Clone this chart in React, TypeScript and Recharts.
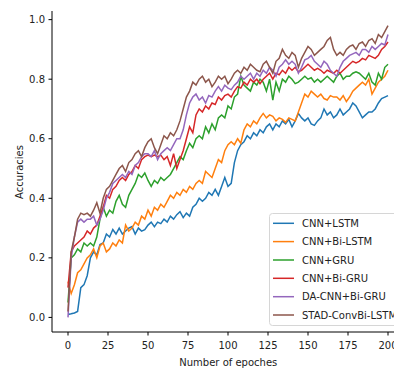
import React from 'react';
import { LineChart, Line, XAxis, YAxis, Legend, Label } from 'recharts';

const EPOCHS = Array.from({ length: 101 }, (_, i) => i * 2);

const SERIES_NAMES = ['CNN+LSTM', 'CNN+Bi-LSTM', 'CNN+GRU', 'CNN+Bi-GRU', 'DA-CNN+Bi-GRU', 'STAD-ConvBi-LSTM'];
const COLORS = ['#1f77b4', '#ff7f0e', '#2ca02c', '#d62728', '#9467bd', '#8c564b'];

const CNN_LSTM = [
  0.01, 0.012, 0.015, 0.02, 0.1, 0.11, 0.14, 0.2, 0.22, 0.21,
  0.245, 0.25, 0.28, 0.27, 0.295, 0.28, 0.3, 0.28, 0.29, 0.3,
  0.305, 0.28, 0.3, 0.29, 0.295, 0.31, 0.32, 0.305, 0.32, 0.315,
  0.33, 0.32, 0.34, 0.33, 0.345, 0.355, 0.335, 0.35, 0.34, 0.37,
  0.38, 0.4, 0.39, 0.4, 0.42, 0.41, 0.43, 0.41, 0.44, 0.47,
  0.44, 0.45, 0.52, 0.56, 0.58, 0.59, 0.61, 0.6, 0.62, 0.61,
  0.63, 0.62, 0.64, 0.65, 0.63, 0.65, 0.64, 0.66, 0.65, 0.665,
  0.64, 0.66, 0.685, 0.67, 0.66, 0.67, 0.65, 0.645, 0.66, 0.67,
  0.7, 0.68, 0.69, 0.67, 0.68, 0.7, 0.68, 0.69, 0.7, 0.72,
  0.71, 0.69, 0.67, 0.68, 0.69, 0.69, 0.7, 0.72, 0.735, 0.74, 0.745,
];

const CNN_BI_LSTM = [
  0.12, 0.08, 0.11, 0.15, 0.16, 0.18, 0.2, 0.21, 0.23, 0.2,
  0.24, 0.25, 0.22, 0.23, 0.25, 0.24, 0.26, 0.25, 0.31, 0.29,
  0.3, 0.32, 0.31, 0.34, 0.33, 0.36, 0.34, 0.37, 0.36, 0.38,
  0.37, 0.39, 0.41, 0.4, 0.42, 0.41, 0.43, 0.42, 0.44, 0.43,
  0.45, 0.46, 0.45, 0.49, 0.48, 0.47, 0.5, 0.53, 0.52, 0.56,
  0.58, 0.59, 0.58, 0.6, 0.585, 0.63, 0.65, 0.64, 0.66, 0.65,
  0.67, 0.685, 0.67, 0.68, 0.675, 0.66, 0.67, 0.665, 0.655, 0.67,
  0.665, 0.66, 0.69, 0.72, 0.75, 0.74, 0.76, 0.75, 0.74, 0.75,
  0.735, 0.73, 0.745, 0.74, 0.74, 0.73, 0.745, 0.725, 0.74, 0.76,
  0.77, 0.78, 0.79, 0.78, 0.8, 0.75, 0.77, 0.79, 0.8, 0.81, 0.83,
];

const CNN_GRU = [
  0.05, 0.2, 0.21, 0.23, 0.22, 0.25, 0.24, 0.25, 0.24, 0.27,
  0.33, 0.37, 0.34, 0.36, 0.35, 0.39, 0.41, 0.38, 0.37, 0.41,
  0.43, 0.45, 0.48, 0.47, 0.485, 0.46, 0.44, 0.46, 0.45, 0.47,
  0.46, 0.47, 0.48, 0.5, 0.52, 0.54, 0.53, 0.56, 0.585, 0.57,
  0.6, 0.61, 0.6, 0.64, 0.62, 0.65, 0.63, 0.67, 0.68, 0.67,
  0.71, 0.7, 0.74, 0.75, 0.81, 0.78, 0.77, 0.76, 0.79, 0.78,
  0.8, 0.79, 0.76, 0.8, 0.73, 0.79, 0.76, 0.8, 0.79, 0.81,
  0.8, 0.785, 0.79, 0.8, 0.81, 0.8, 0.805, 0.79, 0.8, 0.79,
  0.8, 0.81, 0.8, 0.79, 0.81, 0.82, 0.8, 0.81, 0.81, 0.82,
  0.825, 0.82, 0.81, 0.8, 0.82, 0.79, 0.78, 0.82, 0.8, 0.84, 0.85,
];

const CNN_BI_GRU = [
  0.1, 0.22, 0.24, 0.25, 0.26, 0.27, 0.29, 0.28, 0.3, 0.31,
  0.34, 0.37, 0.41, 0.4, 0.43, 0.44, 0.46, 0.47, 0.46, 0.48,
  0.49, 0.51, 0.5, 0.53, 0.54, 0.545, 0.54, 0.545, 0.54, 0.545,
  0.53, 0.54, 0.51, 0.55, 0.5, 0.53, 0.56, 0.6, 0.64, 0.62,
  0.68, 0.7, 0.69, 0.71, 0.7, 0.72, 0.715, 0.74, 0.73, 0.745,
  0.75, 0.74, 0.76, 0.775, 0.77, 0.79, 0.78, 0.8, 0.79, 0.8,
  0.785, 0.8, 0.81, 0.82, 0.8, 0.82, 0.815, 0.83, 0.82, 0.84,
  0.83, 0.84, 0.825, 0.83, 0.84, 0.85, 0.84, 0.83, 0.836, 0.83,
  0.82, 0.83, 0.825, 0.82, 0.83, 0.82, 0.83, 0.84, 0.85, 0.86,
  0.855, 0.86, 0.87, 0.865, 0.88, 0.875, 0.87, 0.88, 0.9, 0.91, 0.925,
];

const DA_CNN_BI_GRU = [
  0.0, 0.2, 0.27, 0.32, 0.33, 0.32, 0.33, 0.33, 0.34, 0.31,
  0.33, 0.36, 0.4, 0.42, 0.45, 0.46, 0.47, 0.48, 0.47, 0.49,
  0.48, 0.51, 0.52, 0.54, 0.55, 0.55, 0.54, 0.56, 0.53, 0.55,
  0.56, 0.57, 0.56, 0.58, 0.6, 0.6, 0.63, 0.68, 0.72, 0.74,
  0.75, 0.73, 0.74, 0.72, 0.745, 0.74, 0.76, 0.775, 0.76, 0.78,
  0.77, 0.765, 0.78, 0.79, 0.81, 0.8, 0.81, 0.82, 0.8, 0.82,
  0.81, 0.83, 0.82, 0.84, 0.83, 0.81, 0.84, 0.85, 0.865, 0.85,
  0.86, 0.85, 0.82, 0.84, 0.865, 0.87, 0.88, 0.86, 0.85, 0.84,
  0.86, 0.85, 0.83, 0.82, 0.81, 0.84, 0.86, 0.87, 0.88, 0.885,
  0.89, 0.88, 0.9, 0.9, 0.89, 0.91, 0.9, 0.91, 0.92, 0.915, 0.95,
];

const STAD_CONVBI_LSTM = [
  0.02, 0.22, 0.27, 0.33, 0.35, 0.345, 0.35, 0.34, 0.36, 0.385,
  0.35, 0.4, 0.43, 0.44, 0.46, 0.48, 0.5, 0.51, 0.49, 0.52,
  0.53, 0.55, 0.56, 0.54, 0.57, 0.59, 0.6, 0.57, 0.55, 0.58,
  0.61, 0.6, 0.62, 0.61, 0.63, 0.66, 0.7, 0.74, 0.76, 0.79,
  0.78, 0.8, 0.81, 0.79, 0.8, 0.775, 0.79, 0.81, 0.8, 0.81,
  0.785, 0.8, 0.82, 0.83, 0.82, 0.84, 0.83, 0.85, 0.84, 0.83,
  0.825, 0.85, 0.86, 0.84, 0.82, 0.86, 0.87, 0.9, 0.88, 0.87,
  0.89, 0.88, 0.84, 0.87, 0.89, 0.91, 0.9, 0.88, 0.89, 0.9,
  0.91, 0.93, 0.94, 0.9, 0.88, 0.89, 0.88, 0.9, 0.91, 0.915,
  0.9, 0.92, 0.925, 0.91, 0.93, 0.936, 0.92, 0.95, 0.94, 0.96, 0.98,
];

const SERIES_VALUES = [CNN_LSTM, CNN_BI_LSTM, CNN_GRU, CNN_BI_GRU, DA_CNN_BI_GRU, STAD_CONVBI_LSTM];

const X_TICKS = [0, 25, 50, 75, 100, 125, 150, 175, 200];
const Y_TICKS = [0.0, 0.2, 0.4, 0.6, 0.8, 1.0];

const FONT = "'DejaVu Sans', sans-serif";

const renderLegend = () => {
  const rowY = [10.3, 28.6, 47, 65.3, 83.7, 102];
  return (
    <svg width={150} height={114} style={{ display: 'block' }}>
      <rect x={0.5} y={0.5} width={148} height={112} rx={3} ry={3} fill="rgba(255,255,255,0.8)" stroke="#d6d6d6" strokeWidth={1} />
      {SERIES_NAMES.map((name, i) => (
        <g key={name}>
          <line x1={4} x2={25} y1={rowY[i]} y2={rowY[i]} stroke={COLORS[i]} strokeWidth={1.5} />
          <text x={33} y={rowY[i] + 3.6} fontSize={10} fontFamily={FONT} fill="#222">{name}</text>
        </g>
      ))}
    </svg>
  );
};

export default function App() {
  const data = EPOCHS.map((e, i) => {
    const row: Record<string, number> = { epoch: e };
    SERIES_VALUES.forEach((vals, k) => {
      row['s' + k] = vals[i];
    });
    return row;
  });

  const tickStyle = { fill: '#222', fontSize: 10, fontFamily: FONT };

  return (
    <div style={{ position: 'absolute', left: 0, top: 0, width: 394, height: 369, overflow: 'hidden', background: '#fff' }}>
      <LineChart width={430} height={369} data={data} margin={{ top: 11, right: 26, bottom: 0, left: 0 }}>
        <XAxis
          dataKey="epoch"
          type="number"
          domain={[-10, 210]}
          ticks={X_TICKS}
          interval={0}
          allowDataOverflow
          height={37}
          stroke="#000"
          tickSize={3.5}
          tickMargin={6}
          tick={tickStyle}
        >
          <Label
            content={() => (
              <text x={228.3} y={366} textAnchor="middle" fontSize={10} fontFamily={FONT} fill="#222">
                Number of epoches
              </text>
            )}
          />
        </XAxis>
        <XAxis
          xAxisId="top"
          orientation="top"
          type="number"
          domain={[-10, 210]}
          allowDataOverflow
          height={0}
          stroke="#000"
          tick={false}
          tickLine={false}
        />
        <YAxis
          type="number"
          domain={[-0.049, 1.029]}
          ticks={Y_TICKS}
          interval={0}
          allowDataOverflow
          width={52}
          stroke="#000"
          tickSize={3.5}
          tickMargin={3.5}
          tick={tickStyle}
          tickFormatter={(v: number) => v.toFixed(1)}
        >
          <Label
            content={() => (
              <text x={23} y={172} transform="rotate(-90 23 172)" textAnchor="middle" fontSize={10} fontFamily={FONT} fill="#222">
                Accuracies
              </text>
            )}
          />
        </YAxis>
        {SERIES_NAMES.map((name, k) => (
          <Line
            key={name}
            name={name}
            dataKey={'s' + k}
            type="linear"
            stroke={COLORS[k]}
            strokeWidth={1.5}
            dot={false}
            activeDot={false}
            isAnimationActive={false}
          />
        ))}
        <Legend
          layout="vertical"
          align="center"
          verticalAlign="middle"
          content={renderLegend}
          wrapperStyle={{ position: 'absolute', left: 269, top: 213, width: 150, height: 114 }}
        />
      </LineChart>
    </div>
  );
}
